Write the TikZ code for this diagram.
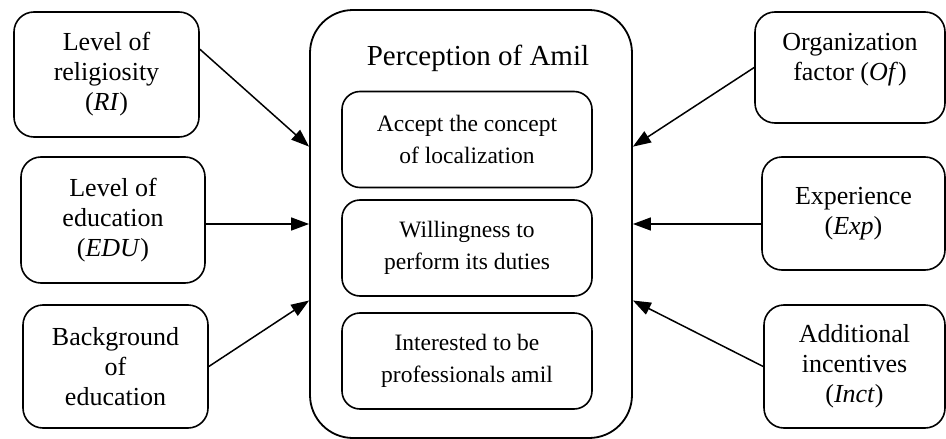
\documentclass[tikz,border=0pt]{standalone}
\usepackage{fontspec}
\setmainfont{Liberation Serif}
\usetikzlibrary{arrows.meta,calc}
\begin{document}
\begin{tikzpicture}[x=1pt,y=-1pt,
  factor/.style={draw, line width=1.6pt, rounded corners=20pt, align=center,
    inner sep=0pt, font=\fontsize{26}{30}\selectfont},
  outerbox/.style={draw, line width=1.8pt, rounded corners=43pt, inner sep=0pt,
    minimum width=322pt, minimum height=428pt},
  itembox/.style={draw, line width=1.6pt, rounded corners=18pt, align=center,
    inner sep=0pt, minimum width=250pt, minimum height=96pt,
    font=\fontsize{23.5}{32}\selectfont},
  link/.style={line width=1.5pt, -{Triangle[length=18pt,width=13pt]}}
]
\useasboundingbox (0,0) rectangle (946,439);

% central construct with its three dimensions
\node[outerbox] (amil) at (471,224) {};
\node[anchor=base, font=\fontsize{29}{34}\selectfont] (title) at (478,65) {Perception of Amil};
\node[itembox] (acc) at (467,139.5) {Accept the concept\\of localization};
\node[itembox] (wil) at (467,248) {Willingness to\\perform its duties};
\node[itembox] (int) at (467,361) {Interested to be\\professionals amil};

% factors on the left
\node[factor, minimum width=185pt, minimum height=125pt] (ri) at (106.5,74.5)
  {Level of\\religiosity\\(\textit{RI})};
\node[factor, minimum width=184pt, minimum height=126pt] (edu) at (113,220)
  {Level of\\education\\(\textit{EDU})};
\node[factor, minimum width=185pt, minimum height=123pt] (bg) at (115.5,366.5)
  {Background\\of\\education};

% factors on the right
\node[factor, minimum width=190pt, minimum height=111pt] (of) at (850,67.5) {};
\node[align=center, inner sep=0pt, font=\fontsize{26}{30}\selectfont] (oftext) at (850,60)
  {Organization\\factor (\textit{Of})};
\node[factor, minimum width=183pt, minimum height=113pt] (exp) at (853.5,213.5)
  {Experience\\(\textit{Exp})};
\node[factor, minimum width=181pt, minimum height=123pt] (inct) at (854.5,366.5)
  {Additional\\incentives\\(\textit{Inct})};

% influences on the perception
\draw[link] ($(ri.north east)!0.3!(ri.south east)$) -- ($(amil.north west)!0.32!(amil.south west)$);
\draw[link] (edu.east |- amil.west) -- (amil.west);
\draw[link] (bg.east) -- ($(amil.north west)!0.678!(amil.south west)$);
\draw[link] (of.west) -- ($(amil.north east)!0.32!(amil.south east)$);
\draw[link] (exp.west |- amil.east) -- (amil.east);
\draw[link] (inct.west) -- ($(amil.north east)!0.678!(amil.south east)$);
\end{tikzpicture}
\end{document}
